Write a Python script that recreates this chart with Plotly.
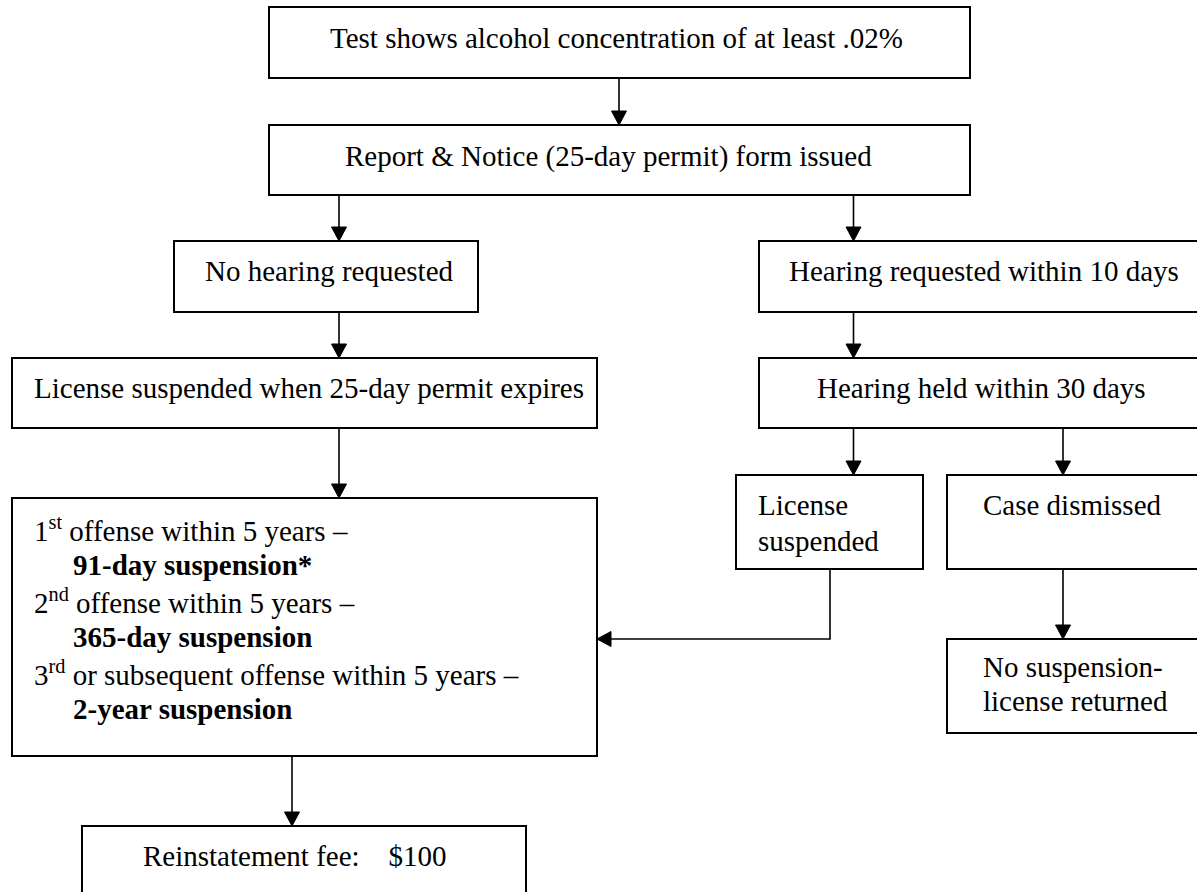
import plotly.graph_objects as go

# ---- content (text of each box, one list of lines per box; bold flag per line) ----
box_ids = ["test", "notice", "nohear", "hear", "susp25", "held",
           "big", "licsusp", "dismiss", "nosusp", "fee"]
box_lines = {
    "test":    [("Test shows alcohol concentration of at least .02%", False)],
    "notice":  [("Report &amp; Notice (25-day permit) form issued", False)],
    "nohear":  [("No hearing requested", False)],
    "hear":    [("Hearing requested within 10 days", False)],
    "susp25":  [("License suspended when 25-day permit expires", False)],
    "held":    [("Hearing held within 30 days", False)],
    "big":     [("1<sup>st</sup> offense within 5 years \u2013", False),
                ("91-day suspension*", True),
                ("2<sup>nd</sup> offense within 5 years \u2013", False),
                ("365-day suspension", True),
                ("3<sup>rd</sup> or subsequent offense within 5 years \u2013", False),
                ("2-year suspension", True)],
    "licsusp": [("License", False), ("suspended", False)],
    "dismiss": [("Case dismissed", False)],
    "nosusp":  [("No suspension-", False), ("license returned", False)],
    "fee":     [("Reinstatement fee:\u00a0\u00a0\u00a0 $100", False)],
}
# flow connections: (from, to)
edges = [("test", "notice"), ("notice", "nohear"), ("notice", "hear"),
         ("nohear", "susp25"), ("hear", "held"), ("susp25", "big"),
         ("held", "licsusp"), ("held", "dismiss"), ("dismiss", "nosusp"),
         ("big", "fee")]
elbow_edges = [("licsusp", "big")]

# ---- layout geometry (page pixels, y downward) ----
geom = {  # x0, y0, x1, y1
    "test":    (269, 7, 970, 78),
    "notice":  (269, 125, 970, 195),
    "nohear":  (174, 241, 478, 312),
    "hear":    (759, 241, 1215, 312),
    "susp25":  (12, 358, 597, 428),
    "held":    (759, 358, 1215, 428),
    "big":     (12, 498, 597, 756),
    "licsusp": (736, 475, 923, 569),
    "dismiss": (947, 475, 1215, 569),
    "nosusp":  (947, 639, 1215, 733),
    "fee":     (82, 826, 526, 915),
}
text_pos = {  # left x, first-line centre y, line spacing, indent for bold lines
    "test":    (328, 38, 0, 0),
    "notice":  (343, 156, 0, 0),
    "nohear":  (203, 271, 0, 0),
    "hear":    (787, 271, 0, 0),
    "susp25":  (32, 388, 0, 0),
    "held":    (815, 388, 0, 0),
    "big":     (32, 529, 36, 39),
    "licsusp": (756, 505, 36, 0),
    "dismiss": (981, 505, 0, 0),
    "nosusp":  (981, 667, 34, 0),
    "fee":     (141, 856, 0, 0),
}
edge_x = {("test", "notice"): 619, ("notice", "nohear"): 339, ("notice", "hear"): 853.5,
          ("nohear", "susp25"): 339, ("hear", "held"): 853.5, ("susp25", "big"): 339,
          ("held", "licsusp"): 853.5, ("held", "dismiss"): 1063,
          ("dismiss", "nosusp"): 1063, ("big", "fee"): 292}
elbow_geom = {("licsusp", "big"): (830, 639)}

FONT = "Liberation Serif, Times New Roman, serif"
FS = 29
W, H = 1197, 892
AH, AW = 14, 7.5  # arrow head length, half width

shapes, annotations = [], []

for b in box_ids:
    x0, y0, x1, y1 = geom[b]
    shapes.append(dict(type="rect", xref="x", yref="y", x0=x0, y0=y0, x1=x1, y1=y1,
                       line=dict(color="black", width=2), fillcolor="white", layer="below"))
    lx, ly, dy, ind = text_pos[b]
    for i, (t, bold) in enumerate(box_lines[b]):
        annotations.append(dict(
            x=lx + (ind if bold else 0), y=ly + i * dy, xref="x", yref="y",
            text=f"<b>{t}</b>" if bold else t, showarrow=False,
            xanchor="left", yanchor="middle",
            font=dict(family=FONT, size=FS, color="black")))

def arrow_down(x, ya, yb):
    shapes.append(dict(type="line", xref="x", yref="y", x0=x, y0=ya, x1=x, y1=yb - AH + 1,
                       line=dict(color="black", width=1.6)))
    shapes.append(dict(type="path", xref="x", yref="y",
                       path=f"M {x-AW},{yb-AH} L {x+AW},{yb-AH} L {x},{yb} Z",
                       fillcolor="black", line=dict(color="black", width=1)))

for (a, b) in edges:
    arrow_down(edge_x[(a, b)], geom[a][3], geom[b][1])

for (a, b) in elbow_edges:
    xs, yh = elbow_geom[(a, b)]
    xt = geom[b][2]
    shapes.append(dict(type="path", xref="x", yref="y",
                       path=f"M {xs},{geom[a][3]} L {xs},{yh} L {xt+AH-1},{yh}",
                       line=dict(color="black", width=1.6)))
    shapes.append(dict(type="path", xref="x", yref="y",
                       path=f"M {xt+AH},{yh-AW} L {xt+AH},{yh+AW} L {xt},{yh} Z",
                       fillcolor="black", line=dict(color="black", width=1)))

fig = go.Figure()
fig.update_layout(
    width=W, height=H, margin=dict(l=0, r=0, t=0, b=0),
    paper_bgcolor="white", plot_bgcolor="white",
    xaxis=dict(range=[0, W], visible=False, fixedrange=True),
    yaxis=dict(range=[H, 0], visible=False, fixedrange=True),
    shapes=shapes, annotations=annotations, showlegend=False,
)
fig.write_html(
    "out.html",
    config={"displayModeBar": False},
    post_script="document.body.style.margin='0';document.body.style.padding='0';"
                "document.body.style.overflow='hidden';",
)
